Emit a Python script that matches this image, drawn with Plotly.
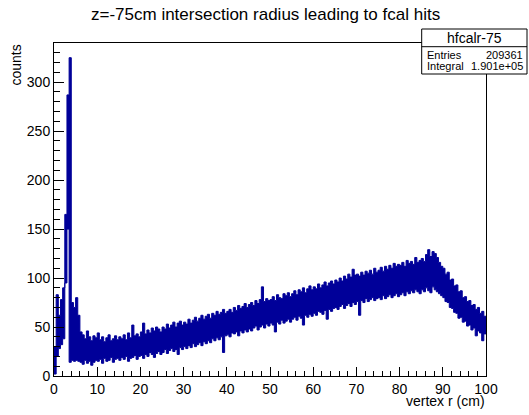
import plotly.graph_objects as go

# Histogram band envelope, 0.5 cm segments from 0 to 100 cm (upper / lower extent of the dense bins)
seg_hi = [
    30, 83, 62, 78, 90, 165, 287, 325, 75, 70,
    80, 62, 45, 42, 38, 46, 40, 36, 41, 39,
    44, 37, 40, 35, 39, 42, 36, 38, 41, 37,
    40, 38, 42, 37, 44, 39, 52, 41, 43, 40,
    45, 54, 43, 47, 44, 49, 46, 50, 48, 45,
    50, 48, 53, 49, 52, 55, 50, 54, 56, 52,
    55, 53, 58, 54, 57, 60, 56, 59, 62, 58,
    61, 63, 59, 64, 62, 66, 63, 65, 68, 64,
    66, 68, 65, 70, 67, 72, 69, 71, 74, 70,
    73, 75, 72, 77, 74, 78, 91, 76, 79, 77,
    78, 81, 77, 83, 80, 79, 84, 82, 85, 81,
    84, 87, 83, 88, 86, 90, 85, 89, 92, 88,
    91, 89, 94, 90, 93, 96, 92, 95, 97, 94,
    98, 96, 100, 97, 102, 99, 104, 101, 109, 103,
    104, 102, 106, 103, 107, 105, 108, 104, 110, 106,
    108, 111, 107, 112, 109, 113, 110, 115, 112, 114,
    113, 116, 112, 118, 115, 117, 114, 121, 116, 118,
    120, 117, 124, 129, 122, 127, 125, 121, 116, 112,
    110, 104, 106, 98, 99, 92, 93, 86, 87, 80,
    81, 76, 77, 72, 73, 68, 70, 64, 66, 61,
]
seg_lo = [
    2, 20, 28, 32, 38, 95, 150, 14, 16, 15,
    16, 15, 14, 12, 16, 13, 15, 11, 14, 16,
    15, 17, 13, 18, 15, 16, 19, 14, 17, 18,
    16, 19, 17, 20, 15, 18, 19, 21, 17, 20,
    21, 18, 22, 20, 24, 22, 19, 23, 25, 22,
    24, 27, 23, 26, 28, 25, 27, 22, 29, 27,
    30, 28, 31, 29, 33, 30, 32, 34, 31, 35,
    33, 36, 34, 38, 36, 39, 37, 40, 24, 41,
    42, 40, 44, 43, 45, 41, 46, 44, 47, 45,
    48, 46, 49, 51, 47, 50, 52, 49, 53, 51,
    54, 52, 45, 55, 53, 57, 54, 56, 58, 55,
    58, 60, 57, 61, 59, 52, 62, 60, 63, 61,
    64, 62, 66, 65, 63, 67, 58, 68, 66, 69,
    70, 68, 71, 73, 69, 72, 74, 71, 75, 73,
    76, 62, 77, 75, 79, 76, 78, 80, 77, 79,
    80, 78, 82, 79, 81, 83, 80, 82, 84, 81,
    83, 85, 82, 86, 84, 87, 85, 88, 86, 84,
    88, 86, 90, 87, 85, 91, 88, 86, 84, 82,
    80, 76, 75, 70, 69, 65, 64, 59, 60, 55,
    56, 51, 52, 47, 49, 41, 46, 44, 36, 43,
]
x_min, x_max = 0.0, 100.0
seg_width = 0.5

title_text = "z=-75cm intersection radius leading to fcal hits"
x_title = "vertex r (cm)"
y_title = "counts"
stat_name = "hfcalr-75"
stat_rows = [("Entries", "209361"), ("Integral", "1.901e+05")]

# step edges
edges = [x_min + i * seg_width for i in range(len(seg_hi))] + [x_max]
hi_vals = seg_hi + [seg_hi[-1]]
lo_vals = seg_lo + [seg_lo[-1]]

W, H = 529, 415
L, R, T, B = 54, 486, 43, 376
col = "#000099"

fig = go.Figure()
fig.add_trace(go.Scatter(x=edges, y=lo_vals, mode="lines", line=dict(color=col, width=1, shape="hv"),
                         hoverinfo="skip", showlegend=False))
fig.add_trace(go.Scatter(x=edges, y=hi_vals, mode="lines", line=dict(color=col, width=1, shape="hv"),
                         fill="tonexty", fillcolor=col, hoverinfo="skip", showlegend=False))

font = "Liberation Sans, Arial, sans-serif"
fig.update_layout(
    width=W, height=H,
    margin=dict(l=L, r=W - R, t=T, b=H - B),
    paper_bgcolor="white", plot_bgcolor="white",
    font=dict(family=font, color="black", size=14),
    showlegend=False,
)
fig.update_xaxes(range=[x_min, x_max], showgrid=False, zeroline=False, automargin=False,
                 showline=True, linecolor="black", linewidth=1, mirror=True,
                 ticks="inside", ticklen=9, tickcolor="black", dtick=10, tick0=0,
                 minor=dict(ticks="inside", ticklen=5, dtick=2, tickcolor="black"),
                 tickfont=dict(size=14))
fig.update_yaxes(range=[0, 340], showgrid=False, zeroline=False, automargin=False,
                 showline=True, linecolor="black", linewidth=1, mirror=True,
                 ticks="inside", ticklen=10, tickcolor="black", dtick=50, tick0=0,
                 minor=dict(ticks="inside", ticklen=6, dtick=10, tickcolor="black"),
                 tickfont=dict(size=14))

def px(x):
    return (x - L) / (R - L)

def py(y):
    return (B - y) / (B - T)

ann = []
ann.append(dict(text=title_text, x=px(265), y=py(14), xref="paper", yref="paper",
                showarrow=False, font=dict(size=17), xanchor="center", yanchor="middle"))
ann.append(dict(text=x_title, x=px(487), y=py(401), xref="paper", yref="paper",
                showarrow=False, font=dict(size=14), xanchor="right", yanchor="middle"))
ann.append(dict(text=y_title, x=px(15), y=py(43), xref="paper", yref="paper",
                showarrow=False, font=dict(size=14), textangle=-90, xanchor="center", yanchor="top"))

# stats box
bx0, bx1, by0, by1, bmid = 421.7, 527, 29, 74, 46.7
shapes = [
    dict(type="rect", xref="paper", yref="paper", x0=px(bx0), x1=px(bx1), y0=py(by1), y1=py(by0),
         line=dict(color="black", width=1), fillcolor="white", layer="above"),
    dict(type="line", xref="paper", yref="paper", x0=px(bx0), x1=px(bx1), y0=py(bmid), y1=py(bmid),
         line=dict(color="black", width=1), layer="above"),
]
ann.append(dict(text=stat_name, x=px((bx0 + bx1) / 2), y=py(38), xref="paper", yref="paper",
                showarrow=False, font=dict(size=14), xanchor="center", yanchor="middle"))
for k, (lab, val) in enumerate(stat_rows):
    yy = 54.5 + k * 11.5
    ann.append(dict(text=lab, x=px(425), y=py(yy), xref="paper", yref="paper",
                    showarrow=False, font=dict(size=11), xanchor="left", yanchor="middle"))
    ann.append(dict(text=val, x=px(525), y=py(yy), xref="paper", yref="paper",
                    showarrow=False, font=dict(size=11), xanchor="right", yanchor="middle"))
fig.update_layout(annotations=ann, shapes=shapes)

fig.write_html("out.html", config={"displayModeBar": False},
               post_script="document.body.style.margin='0';document.body.style.overflow='hidden';")
